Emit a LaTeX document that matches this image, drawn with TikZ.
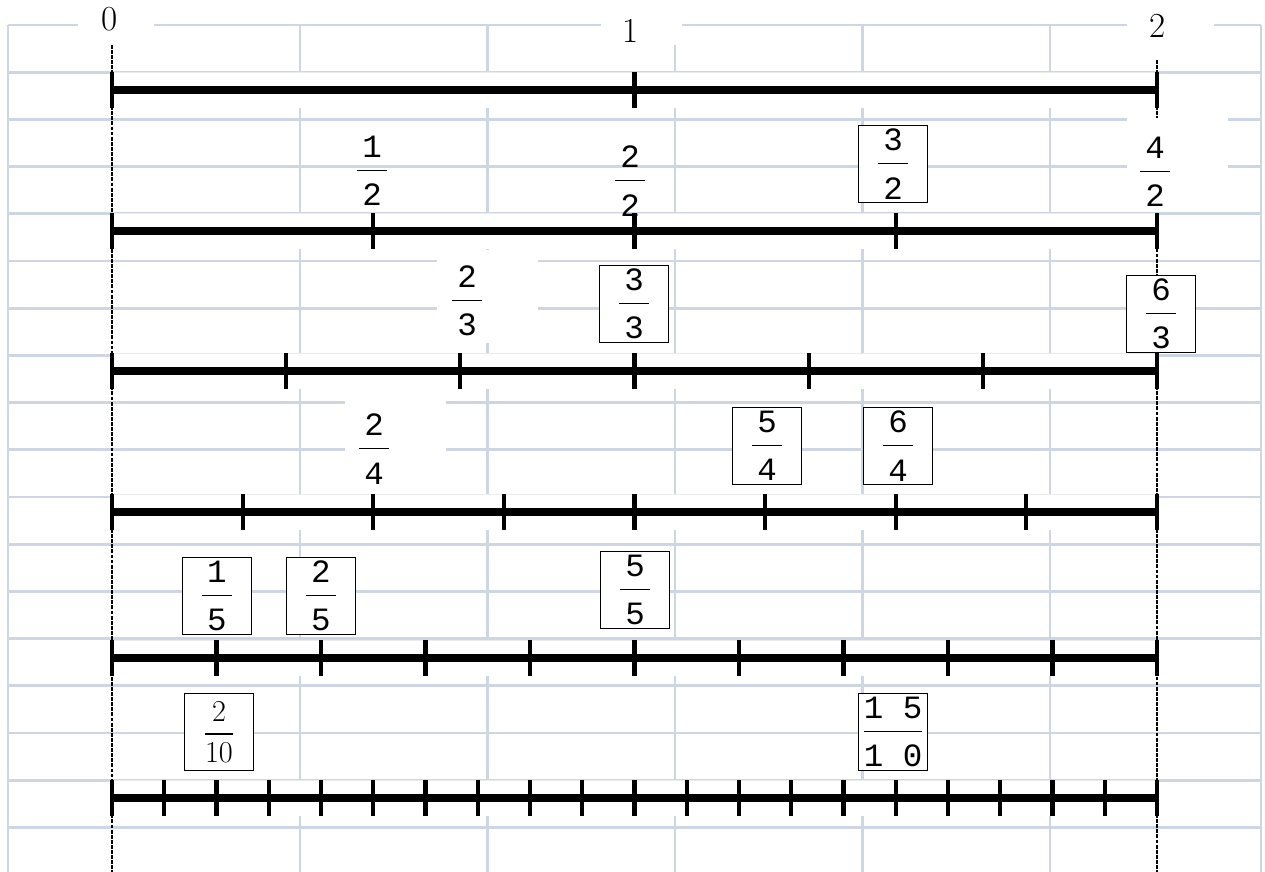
\documentclass[tikz,border=0pt]{standalone}
\usepackage{amsmath}
\usepackage{fontspec}
\setmonofont{Liberation Mono}
\definecolor{gridblue}{RGB}{206,214,228}
\newcommand{\fr}[2]{$\dfrac{\text{\ttfamily\,#1\,}}{\raisebox{-4pt}{\ttfamily\,#2\,}}$}
\tikzset{%
  gridline/.style={%
    draw=gridblue,%
    line width=1.5pt},
  numline/.style={%
    line width=4pt},
  tickmark/.style={%
    line width=2.3pt},
  endline/.style={%
    line width=1.3pt,%
    dash pattern=on 2.2pt off 0.7pt},
  fracbox/.style={%
    draw,%
    fill=white,%
    line width=0.8pt,%
    inner sep=0pt,%
    minimum width=1.38cm,%
    minimum height=1.54cm},
  endlabel/.style={%
    font=\fontsize{20}{24}\selectfont}
}

\begin{document}
\begin{tikzpicture}[x=0.02cm,y=-0.02cm,every
            node/.style={font=\fontsize{18.5}{22}\selectfont}]
  \useasboundingbox (0,0) rectangle (1265,872);
  % sheet grid
  \foreach \k in {0,...,17}
    \draw[gridline] (8,{25+47.2*\k}) -- (1261,{25+47.2*\k});
  \foreach \gx in {8,300,487.5,675,862.5,1050,1261}
    \draw[gridline] (\gx,25) -- (\gx,872);
  \fill[white] (78,0) rectangle (154,45);
  \fill[white] (601,0) rectangle (682,45);
  \fill[white] (1127,0) rectangle (1214,45);
  % 0 and 2
  \draw[endline] (112,45) -- (112,872);
  \draw[endline] (1157,60) -- (1157,872);
  \fill[white] (1127,118) rectangle (1228,212);
  \fill[white] (437,250) rectangle (538,343);
  \fill[white] (345,395) rectangle (446,492);
  % number lines
  \foreach \y/\n in {90/2,231/4,371/6,512/8,658/10,798/20} {
    \fill[white] (112,{\y-18}) rectangle (1157,{\y+18});
    \draw[black!8,line width=0.5pt] (112,{\y-18}) -- (1157,{\y-18});
    \draw[numline] (112,\y) -- (1157,\y);
    \foreach \i in {0,...,\n}
      \draw[tickmark] ({112+1045/\n*\i},{\y-18}) -- ++(0,36);
  }
  \node[endlabel] (zero) at (110,19) {0};
  \node[endlabel] (one) at (631,31) {1};
  \node[endlabel] (two) at (1158,26) {2};
  % halves
  \node (half1) at (372,171) {\fr{1}{2}};
  \node (half2) at (630,181) {\fr{2}{2}};
  \node[fracbox] (half3) at (893,164) {\fr{3}{2}};
  \node (half4) at (1155,172) {\fr{4}{2}};
  % thirds
  \node (third2) at (467,301) {\fr{2}{3}};
  \node[fracbox] (third3) at (634,304) {\fr{3}{3}};
  \node[fracbox] (third6) at (1161,314) {\fr{6}{3}};
  % quarters
  \node (quart2) at (374,449) {\fr{2}{4}};
  \node[fracbox] (quart5) at (767,446) {\fr{5}{4}};
  \node[fracbox] (quart6) at (898,446) {\fr{6}{4}};
  % fifths
  \node[fracbox] (fifth1) at (217,596) {\fr{1}{5}};
  \node[fracbox] (fifth2) at (321,596) {\fr{2}{5}};
  \node[fracbox] (fifth5) at (635,590) {\fr{5}{5}};
  % tenths
  \node[fracbox,font=\fontsize{19}{23}\selectfont] (tenth2) at (219,732) {$\dfrac{2}{10}$};
  \node[fracbox] (tenth15) at (893,732)
    {$\dfrac{\text{\ttfamily 1 5}}{\raisebox{-4pt}{\ttfamily 1 0}}$};
\end{tikzpicture}
\end{document}
